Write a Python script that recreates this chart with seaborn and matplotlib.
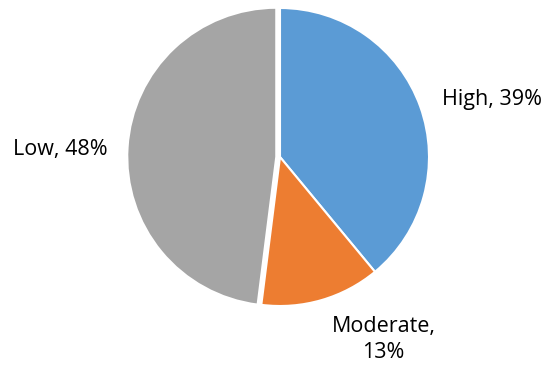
import matplotlib
matplotlib.use("Agg")
import matplotlib.pyplot as plt
import seaborn as sns

# Risk level breakdown
categories = ["High", "Moderate", "Low"]
shares = [39, 13, 48]
colors = ["#5B9BD5", "#ED7D31", "#A5A5A5"]

sns.set_theme(style="white")
plt.rcParams["font.family"] = ["Open Sans", "DejaVu Sans"]

W, H = 547, 371
fig = plt.figure(figsize=(W / 100, H / 100), dpi=100)
ax = fig.add_axes([0, 0, 1, 1])

wedges, _ = ax.pie(
    shares,
    colors=sns.color_palette(colors),
    startangle=90,
    counterclock=False,
    explode=[0, 0, 0.025],
    wedgeprops=dict(edgecolor="white", linewidth=1.5),
    radius=1.0,
)

# pie geometry in pixels: centre and radius
cx, cy, r = 280, 157, 149
ax.set_xlim(-cx / r, (W - cx) / r)
ax.set_ylim(-(H - cy) / r, cy / r)
ax.set_aspect("equal", adjustable="datalim")
ax.axis("off")

label_pos = {
    "High": (1.42, 0.385),
    "Moderate": (0.695, -1.225),
    "Low": (-1.475, 0.05),
}
for cat, val in zip(categories, shares):
    txt = f"{cat},\n{val}%" if cat == "Moderate" else f"{cat}, {val}%"
    x, y = label_pos[cat]
    ax.text(x, y, txt, ha="center", va="center", fontsize=15.5,
            color="#000000", linespacing=1.3)

fig.savefig("out.png", dpi=100)
